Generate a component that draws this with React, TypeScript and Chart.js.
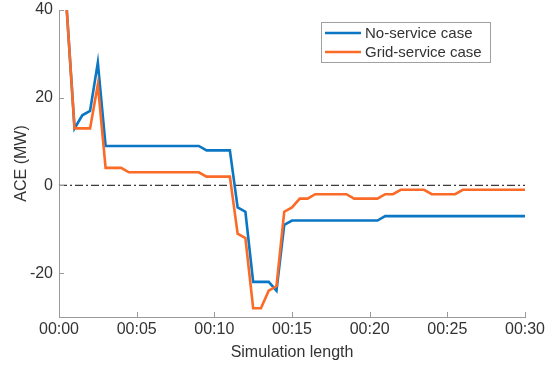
import React, { useEffect, useRef } from "react";
import { Chart, registerables } from "chart.js";

Chart.register(...registerables);

// Time in minutes (30-second steps)
const minutes = [
  0.5, 1.0, 1.5, 2.0, 2.5, 3.0, 3.5, 4.0, 4.5, 5.0,
  5.5, 6.0, 6.5, 7.0, 7.5, 8.0, 8.5, 9.0, 9.5, 10.0,
  10.5, 11.0, 11.5, 12.0, 12.5, 13.0, 13.5, 14.0, 14.5, 15.0,
  15.5, 16.0, 16.5, 17.0, 17.5, 18.0, 18.5, 19.0, 19.5, 20.0,
  20.5, 21.0, 21.5, 22.0, 22.5, 23.0, 23.5, 24.0, 24.5, 25.0,
  25.5, 26.0, 26.5, 27.0, 27.5, 28.0, 28.5, 29.0, 29.5, 30.0,
];

const noService = [
  40, 13, 16, 17, 28, 9, 9, 9, 9, 9,
  9, 9, 9, 9, 9, 9, 9, 9, 8, 8,
  8, 8, -5, -6, -22, -22, -22, -24, -9, -8,
  -8, -8, -8, -8, -8, -8, -8, -8, -8, -8,
  -8, -7, -7, -7, -7, -7, -7, -7, -7, -7,
  -7, -7, -7, -7, -7, -7, -7, -7, -7, -7,
];

const gridService = [
  40, 13, 13, 13, 23, 4, 4, 4, 3, 3,
  3, 3, 3, 3, 3, 3, 3, 3, 2, 2,
  2, 2, -11, -12, -28, -28, -24, -23, -6, -5,
  -3, -3, -2, -2, -2, -2, -2, -3, -3, -3,
  -3, -2, -2, -1, -1, -1, -1, -2, -2, -2,
  -2, -1, -1, -1, -1, -1, -1, -1, -1, -1,
];

const xTickValues = [0, 5, 10, 15, 20, 25, 30];
const xTickLabels = ["00:00", "00:05", "00:10", "00:15", "00:20", "00:25", "00:30"];
const yTickValues = [-20, 0, 20, 40];
const zeroLineX = [0, 30];
const zeroLineY = [0, 0];

const seriesNames = ["No-service case", "Grid-service case"];
const BLUE = "#0a76c4";
const ORANGE = "#fb6a27";
const FONT = "'Liberation Sans', Arial, Helvetica, sans-serif";
const TEXT = "#333333";
const AXIS = "#9a9a9a";

const insideTicks = {
  id: "insideTicks",
  afterDraw(chart: any) {
    const { ctx } = chart;
    const xs = chart.scales.x;
    const ys = chart.scales.y;
    ctx.save();
    ctx.strokeStyle = AXIS;
    ctx.lineWidth = 1;
    ctx.beginPath();
    xTickValues.forEach((v) => {
      const px = Math.round(xs.getPixelForValue(v)) + 0.5;
      ctx.moveTo(px, ys.bottom);
      ctx.lineTo(px, ys.bottom - 5);
    });
    yTickValues.forEach((v) => {
      const py = Math.round(ys.getPixelForValue(v)) + 0.5;
      ctx.moveTo(xs.left, py);
      ctx.lineTo(xs.left + 5, py);
    });
    ctx.stroke();
    ctx.restore();
  },
};

const boxLegend = {
  id: "boxLegend",
  afterDraw(chart: any) {
    const { ctx } = chart;
    const bx = 321.5, by = 22.5, bw = 169, bh = 40;
    ctx.save();
    ctx.fillStyle = "#ffffff";
    ctx.fillRect(bx, by, bw, bh);
    ctx.strokeStyle = "#a0a0a0";
    ctx.lineWidth = 1;
    ctx.strokeRect(bx, by, bw, bh);
    const colors = [BLUE, ORANGE];
    const rows = [33, 52];
    ctx.font = `15px ${FONT}`;
    ctx.textBaseline = "middle";
    ctx.textAlign = "left";
    seriesNames.forEach((name, i) => {
      ctx.strokeStyle = colors[i];
      ctx.lineWidth = 2.5;
      ctx.beginPath();
      ctx.moveTo(325, rows[i]);
      ctx.lineTo(361, rows[i]);
      ctx.stroke();
      ctx.fillStyle = TEXT;
      ctx.fillText(name, 365, rows[i] + 1);
    });
    ctx.restore();
  },
};

export default function App() {
  const ref = useRef<HTMLCanvasElement>(null);

  useEffect(() => {
    if (!ref.current) return;
    const chart = new Chart(ref.current, {
      type: "line",
      data: {
        datasets: [
          {
            label: "zero",
            data: zeroLineX.map((x, i) => ({ x, y: zeroLineY[i] })),
            borderColor: "#3a3a3a",
            borderWidth: 1.3,
            borderDash: [8, 3, 2, 3],
            pointRadius: 0,
            order: 3,
          },
          {
            label: seriesNames[0],
            data: minutes.map((x, i) => ({ x, y: noService[i] })),
            borderColor: BLUE,
            borderWidth: 2.6,
            pointRadius: 0,
            tension: 0,
            order: 2,
          },
          {
            label: seriesNames[1],
            data: minutes.map((x, i) => ({ x, y: gridService[i] })),
            borderColor: ORANGE,
            borderWidth: 2.6,
            pointRadius: 0,
            tension: 0,
            order: 1,
          },
        ],
      },
      options: {
        responsive: false,
        animation: false,
        layout: { padding: { left: 0, right: 25, top: 10, bottom: 0 } },
        plugins: {
          legend: { display: false },
          tooltip: { enabled: false },
        },
        scales: {
          x: {
            type: "linear",
            min: 0,
            max: 30,
            afterBuildTicks: (s: any) => {
              s.ticks = xTickValues.map((v) => ({ value: v }));
            },
            afterFit: (s: any) => {
              s.height = 51;
            },
            grid: { display: false, drawTicks: false },
            border: { display: true, color: AXIS, width: 1 },
            ticks: {
              color: TEXT,
              font: { family: FONT, size: 16 },
              padding: 3,
              maxRotation: 0,
              callback: (v: any) => {
                const i = xTickValues.indexOf(Number(v));
                return i >= 0 ? xTickLabels[i] : "";
              },
            },
            title: {
              display: true,
              text: "Simulation length",
              color: TEXT,
              font: { family: FONT, size: 16 },
              padding: { top: 0, bottom: 6 },
            },
          },
          y: {
            type: "linear",
            min: -30,
            max: 40,
            afterBuildTicks: (s: any) => {
              s.ticks = yTickValues.map((v) => ({ value: v }));
            },
            afterFit: (s: any) => {
              s.width = 59;
              s.paddingTop = 0;
              s.paddingBottom = 0;
            },
            grid: { display: false, drawTicks: false },
            border: { display: true, color: AXIS, width: 1 },
            ticks: {
              color: TEXT,
              font: { family: FONT, size: 16 },
              padding: 6,
            },
            title: {
              display: true,
              text: "ACE (MW)",
              color: TEXT,
              font: { family: FONT, size: 16 },
              padding: { top: 12, bottom: 0 },
            },
          },
        },
      },
      plugins: [insideTicks, boxLegend],
    });
    return () => chart.destroy();
  }, []);

  return (
    <div style={{ position: "absolute", left: 0, top: 0, width: 550, height: 368, background: "#fff" }}>
      <canvas ref={ref} width={550} height={368} style={{ display: "block" }} />
    </div>
  );
}
